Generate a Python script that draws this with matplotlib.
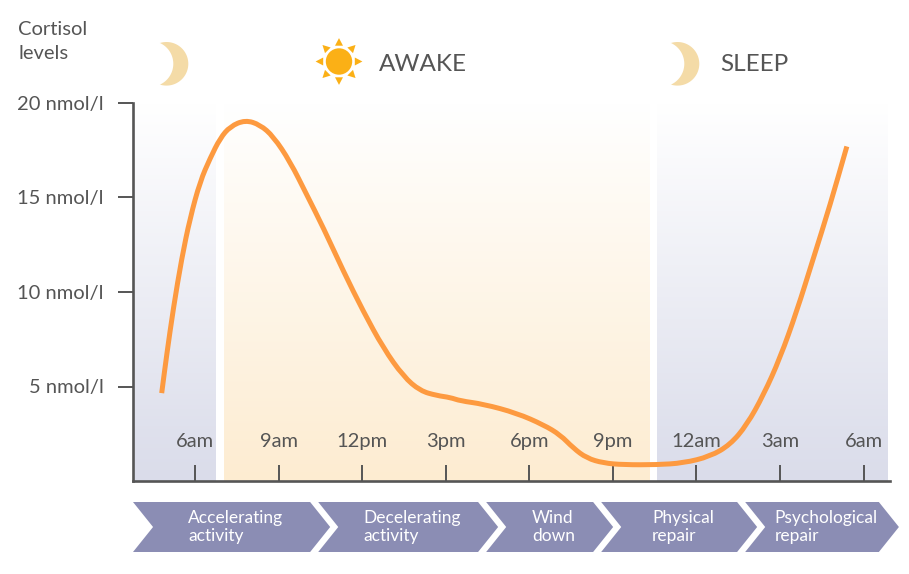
import numpy as np
import matplotlib.pyplot as plt
from matplotlib.patches import Polygon, Circle, PathPatch
from matplotlib.path import Path
from matplotlib.colors import to_rgb

plt.rcParams['font.family'] = ['Lato', 'DejaVu Sans']

# cortisol curve: hour of day (past 24 = next morning), nmol/l
hours = [4.80, 4.98, 5.22, 5.52, 5.82, 6.18, 6.54, 6.90, 7.26, 7.80,
         8.33, 8.81, 9.41, 10.01, 10.61, 11.33, 12.04, 12.76, 13.48, 14.08,
         14.68, 15.16, 15.52, 16.35, 17.55, 18.51, 19.11, 19.58, 20.06, 20.66,
         21.38, 22.58, 23.53, 24.49, 25.21, 25.81, 26.41, 27.00, 27.60, 28.20,
         28.80, 29.40]
cortisol = [4.65, 6.68, 9.15, 11.79, 13.91, 15.85, 17.08, 18.14, 18.76, 19.10,
            18.85, 18.23, 16.90, 15.14, 13.38, 11.08, 8.97, 7.03, 5.53, 4.77,
            4.52, 4.42, 4.24, 4.07, 3.59, 2.97, 2.44, 1.74, 1.21, 0.95,
            0.86, 0.86, 0.95, 1.30, 1.92, 2.97, 4.56, 6.50, 8.97, 11.79,
            14.61, 17.70]

tick_hours = [6, 9, 12, 15, 18, 21, 24, 27, 30]
tick_labels = ['6am', '9am', '12pm', '3pm', '6pm', '9pm', '12am', '3am', '6am']
level_ticks = [5, 10, 15, 20]
level_labels = ['5 nmol/l', '10 nmol/l', '15 nmol/l', '20 nmol/l']

# shaded periods (start hour, end hour, colour at the bottom)
band_start = [3.77, 7.02, 22.58]
band_end = [6.75, 22.30, 30.84]
band_color = ['#dadcea', '#fdecd1', '#dadcea']

phase_names = ['Accelerating\nactivity', 'Decelerating\nactivity', 'Wind\ndown',
               'Physical\nrepair', 'Psychological\nrepair']
phase_edges = [3.77, 10.42, 16.45, 20.58, 25.75, 30.84]

GREY = '#555555'
ORANGE = '#fd9a40'
PURPLE = '#8b8db4'
MOON = '#f4dba7'
SUN = '#fbb016'

W, H = 909, 574
fig = plt.figure(figsize=(W / 100, H / 100), dpi=100)
ax = fig.add_axes([133 / W, (H - 481) / H, 757 / W, 378 / H])

t = np.linspace(0, 1, 256)[:, None]
for x0, x1, c in zip(band_start, band_end, band_color):
    grad = np.array(to_rgb(c)) * (1 - t) + t
    ax.imshow(grad[:, None, :], extent=[x0, x1, 0, 20], origin='lower',
              aspect='auto', interpolation='bilinear', zorder=0)

# smooth the read points with quadratic bezier segments between midpoints
pts = np.column_stack([hours, cortisol])
mids = (pts[:-1] + pts[1:]) / 2
verts = [pts[0], mids[0]]
codes = [Path.MOVETO, Path.LINETO]
for i in range(1, len(pts) - 1):
    verts += [pts[i], mids[i]]
    codes += [Path.CURVE3, Path.CURVE3]
verts.append(pts[-1])
codes.append(Path.LINETO)
ax.add_patch(PathPatch(Path(verts, codes), fc='none', ec=ORANGE, lw=3.6,
                       joinstyle='round', zorder=3))

ax.set_xlim(3.77, 30.95)
ax.set_ylim(0, 20)
for s in ['top', 'right']:
    ax.spines[s].set_visible(False)
for s in ['left', 'bottom']:
    ax.spines[s].set_color(GREY)
    ax.spines[s].set_linewidth(1.9)

ax.set_xticks(tick_hours)
ax.tick_params(axis='x', direction='in', length=11.5, width=1.4, color=GREY,
               labelbottom=False)
for h, lab in zip(tick_hours, tick_labels):
    ax.text(h, 2.1, lab, ha='center', va='center', fontsize=14.5, color=GREY)

ax.set_yticks(level_ticks, level_labels)
ax.tick_params(axis='y', direction='out', length=10.8, width=1.4, color=GREY,
               pad=10.5, labelsize=14.5, labelcolor=GREY)

# phase chevrons under the axis
axb = fig.add_axes([133 / W, (H - 552) / H, 757 / W, 50 / H])
axb.set_xlim(ax.get_xlim())
axb.set_ylim(0, 1)
axb.axis('off')
d, gap = 0.72, 0.29
for i, name in enumerate(phase_names):
    s = phase_edges[i]
    e = phase_edges[i + 1] - gap
    axb.add_patch(Polygon([(s, 1), (e, 1), (e + d, 0.5), (e, 0), (s, 0), (s + d, 0.5)],
                          closed=True, fc=PURPLE, ec='none', clip_on=False))
    axb.text((s + e) / 2 + 0.5, 0.5, name, ha='center', va='center',
             multialignment='left', color='white', fontsize=12.5, linespacing=1.15)

# header: axis title, moons, sun
ov = fig.add_axes([0, 0, 1, 1])
ov.set_xlim(0, W)
ov.set_ylim(H, 0)
ov.axis('off')
ov.text(18, 34.7, 'Cortisol', fontsize=14.5, color=GREY, va='baseline')
ov.text(18, 59.3, 'levels', fontsize=14.5, color=GREY, va='baseline')


def moon(cx, cy):
    # crescent: outer circle minus an offset inner circle
    R, off, r = 21.8, 16.1, 22.9
    a1 = np.linspace(-np.radians(107.4), np.radians(107.4), 60)
    a2 = np.linspace(np.radians(65.2), -np.radians(65.2), 60)
    xs = np.concatenate([cx + R * np.cos(a1), cx - off + r * np.cos(a2)])
    ys = np.concatenate([cy + R * np.sin(a1), cy + r * np.sin(a2)])
    ov.add_patch(Polygon(np.column_stack([xs, ys]), closed=True, fc=MOON, ec='none'))


moon(166.5, 63.8)
moon(677.5, 63.8)

sx, sy = 339, 61.5
ov.add_patch(Circle((sx, sy), 13.2, fc=SUN, ec='none'))
for k in range(8):
    ang = k * np.pi / 4
    u = np.array([np.cos(ang), np.sin(ang)])
    n = np.array([-u[1], u[0]])
    base = np.array([sx, sy]) + 15.8 * u
    tip = np.array([sx, sy]) + 23.4 * u
    ov.add_patch(Polygon([base + 4 * n, tip, base - 4 * n], closed=True, fc=SUN, ec='none'))

ov.text(379, 71, 'AWAKE', fontsize=17.5, color=GREY, va='baseline')
ov.text(720, 71, 'SLEEP', fontsize=17.5, color=GREY, va='baseline')

fig.savefig('out.png', dpi=100)
